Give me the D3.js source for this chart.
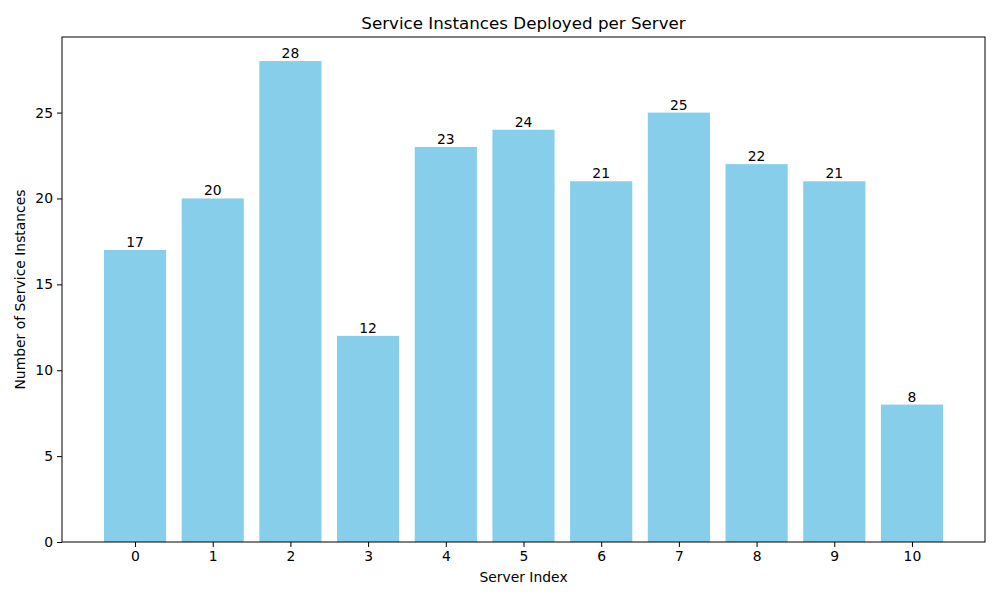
<!DOCTYPE html>
<html>
<head>
<meta charset="utf-8">
<script src="https://cdn.jsdelivr.net/npm/d3@7"></script>
<style>
  body { margin: 0; background: #fff; }
  text { font-family: "DejaVu Sans", sans-serif; }
</style>
</head>
<body>
<div id="chart"></div>
<script>
// chart data
const servers = [0, 1, 2, 3, 4, 5, 6, 7, 8, 9, 10];
const instances = [17, 20, 28, 12, 23, 24, 21, 25, 22, 21, 8];
const yTicks = [0, 5, 10, 15, 20, 25];

const margin = { top: 37, right: 15, bottom: 58, left: 62 };
const width = 1000 - margin.left - margin.right;
const height = 600 - margin.top - margin.bottom;

const svg = d3.select("#chart")
  .append("svg")
  .attr("width", 1000)
  .attr("height", 600)
  .append("g")
  .attr("transform", "translate(" + margin.left + "," + margin.top + ")");

// matplotlib-like limits: bars of width 0.8, 5% margins
const barW = 0.8;
const lo = servers[0] - barW / 2, hi = servers[servers.length - 1] + barW / 2;
const pad = (hi - lo) * 0.05;
const x = d3.scaleLinear().domain([lo - pad, hi + pad]).range([0, width]);
const y = d3.scaleLinear().domain([0, d3.max(instances) * 1.05]).range([height, 0]);

// bars
svg.selectAll(".bar")
  .data(servers)
  .enter().append("rect")
  .attr("class", "bar")
  .attr("x", d => x(d - barW / 2))
  .attr("width", d => x(d + barW / 2) - x(d - barW / 2))
  .attr("y", (d, i) => y(instances[i]))
  .attr("height", (d, i) => y(0) - y(instances[i]))
  .style("fill", "#87CEEB");

// value labels
svg.selectAll(".val")
  .data(servers)
  .enter().append("text")
  .attr("class", "val")
  .attr("x", d => x(d))
  .attr("y", (d, i) => y(instances[i]) - 3)
  .attr("text-anchor", "middle")
  .style("font-size", "13.9px")
  .text((d, i) => instances[i]);

// axes
const xAxis = svg.append("g")
  .attr("transform", "translate(0," + height + ")")
  .call(d3.axisBottom(x).tickValues(servers).tickFormat(d3.format("d")).tickSizeOuter(0).tickSize(5).tickPadding(4));

const yAxis = svg.append("g")
  .call(d3.axisLeft(y).tickValues(yTicks).tickSizeOuter(0).tickSize(5).tickPadding(4));

[xAxis, yAxis].forEach(a => {
  a.select(".domain").remove();
  a.selectAll("text").style("font-size", "13.9px").style("font-family", "DejaVu Sans").attr("fill", "#000");
  a.selectAll("line").attr("stroke", "#000");
});

// frame
svg.append("rect")
  .attr("width", width)
  .attr("height", height)
  .attr("fill", "none")
  .attr("stroke", "#000")
  .attr("stroke-width", 1);

// titles
svg.append("text")
  .attr("x", width / 2)
  .attr("y", -8)
  .attr("text-anchor", "middle")
  .style("font-size", "16.7px")
  .text("Service Instances Deployed per Server");

svg.append("text")
  .attr("x", width / 2)
  .attr("y", height + 40)
  .attr("text-anchor", "middle")
  .style("font-size", "13.9px")
  .text("Server Index");

svg.append("text")
  .attr("transform", "rotate(-90)")
  .attr("x", -height / 2)
  .attr("y", -37)
  .attr("text-anchor", "middle")
  .style("font-size", "13.9px")
  .text("Number of Service Instances");
</script>
</body>
</html>
